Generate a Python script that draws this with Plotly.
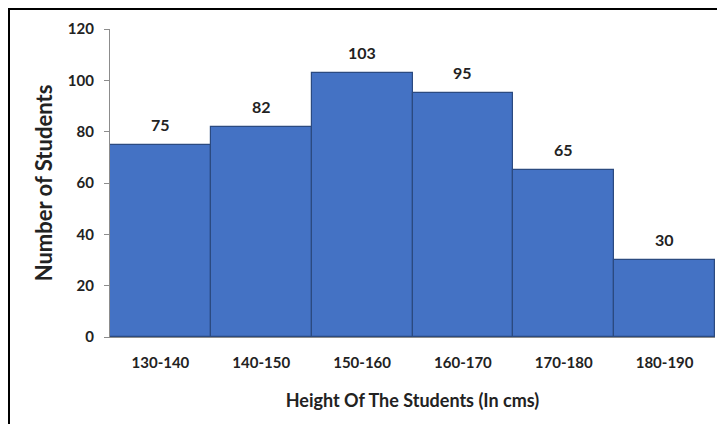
import plotly.graph_objects as go

categories = ["130-140", "140-150", "150-160", "160-170", "170-180", "180-190"]
students = [75, 82, 103, 95, 65, 30]
y_ticks = [0, 20, 40, 60, 80, 100, 120]

# The page body adds an 8px margin, so figure coords = window coords - 8
W, H = 725, 424
L, R, T, B = 102, 18, 21, 95
pw, ph = W - L - R, H - T - B

def px_x(x):
    return (x - L) / pw

def px_y(y):
    return (H - B - y) / ph

fig = go.Figure(go.Bar(
    x=categories, y=students,
    marker=dict(color="#4472C4", line=dict(color="#2B4A80", width=1.2)),
    cliponaxis=False,
))

for c, v in zip(categories, students):
    fig.add_annotation(x=c, y=v, text=f"<b>{v}</b>", showarrow=False,
                       yanchor="bottom", yshift=9,
                       font=dict(family="Lato", size=16, color="#222"))

fig.update_layout(
    width=W, height=H,
    margin=dict(l=L, r=R, t=T, b=B, autoexpand=False),
    paper_bgcolor="white", plot_bgcolor="white",
    bargap=0, showlegend=False,
    font=dict(family="Lato", color="#222"),
)
fig.update_xaxes(
    automargin=False,
    showline=True, linecolor="#8c8c8c", linewidth=1.2,
    ticks="", ticklabelstandoff=12,
    tickfont=dict(family="Lato", size=15, color="#222", weight="bold"),
    title=dict(text="<b>Height Of The Students (In cms)</b>", standoff=24,
               font=dict(family="Lato", size=18, color="#222")),
)
fig.update_yaxes(
    automargin=False,
    range=[0, 120], tickvals=y_ticks,
    showline=True, linecolor="#8c8c8c", linewidth=1.2,
    ticks="outside", ticklen=5, tickcolor="#8c8c8c",
    showgrid=False, zeroline=False, ticklabelstandoff=7,
    tickfont=dict(family="Lato", size=15, color="#222", weight="bold"),
    title=dict(text="<b>Number of Students</b>", standoff=9,
               font=dict(family="Lato", size=22, color="#222")),
)

# Frame around the picture (top and left edges visible)
fig.add_shape(type="line", xref="paper", yref="paper",
              x0=px_x(0), x1=px_x(W + 5), y0=px_y(1), y1=px_y(1),
              line=dict(color="black", width=2))
fig.add_shape(type="line", xref="paper", yref="paper",
              x0=px_x(1), x1=px_x(1), y0=px_y(0), y1=px_y(H + 5),
              line=dict(color="black", width=2))

fig.write_html("out.html")
